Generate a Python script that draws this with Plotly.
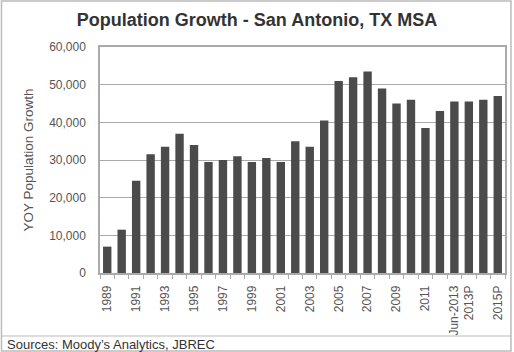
import plotly.graph_objects as go

categories = [str(y) for y in range(1989, 2013)] + ["Jun-2013", "2013P", "2014P", "2015P"]
growth = [7000, 11500, 24500, 31500, 33500, 37000, 34000, 29500, 30000, 31000,
          29500, 30500, 29500, 35000, 33500, 40500, 51000, 52000, 53500, 49000,
          45000, 46000, 38500, 43000, 45500, 45500, 46000, 47000]
shown_labels = ["1989", "1991", "1993", "1995", "1997", "1999", "2001", "2003",
                "2005", "2007", "2009", "2011", "Jun-2013", "2013P", "2015P"]

W, H = 514, 352
L, R, T, B = 100, 7, 47, 79
pw, ph = W - L - R, H - T - B

fig = go.Figure(go.Bar(x=categories, y=growth, marker_color="#4b4b4b",
                       marker_line_width=0))

ticktext = [c if c in shown_labels else "" for c in categories]

def px(x):
    return (x - L) / pw

def py(y):
    return (H - B - y) / ph

fig.update_layout(
    width=W, height=H,
    margin=dict(l=L, r=R, t=T, b=B),
    paper_bgcolor="white", plot_bgcolor="white",
    bargap=0.42, showlegend=False,
    font=dict(family="Liberation Sans, Arial", size=12, color="#555"),
    title=dict(text="<b>Population Growth - San Antonio, TX MSA</b>",
               x=0.5, xanchor="center", y=1 - 20 / H, yanchor="middle",
               font=dict(size=18, color="#333")),
    xaxis=dict(type="category", tickmode="array", tickvals=categories,
               ticktext=ticktext, tickangle=-90, tickson="boundaries",
               ticks="outside", ticklen=4, tickcolor="#aaa",
               ticklabelstandoff=6,
               showline=True, linecolor="#aaa", linewidth=1.5, mirror=True,
               tickfont=dict(size=12, color="#555")),
    yaxis=dict(range=[0, 60000], dtick=10000, tickformat=",d",
               showgrid=True, gridcolor="#aaa", gridwidth=1,
               showline=True, linecolor="#aaa", linewidth=1.5, mirror=True,
               ticks="", ticklabelstandoff=10,
               title=dict(text="YOY Population Growth", standoff=12,
                          font=dict(size=13.5, color="#555")),
               tickfont=dict(size=12, color="#555")),
    shapes=[
        dict(type="rect", xref="paper", yref="paper",
             x0=px(1), x1=px(W - 1), y0=py(1), y1=py(H - 1),
             line=dict(color="#bbb", width=1.5)),
        dict(type="line", xref="paper", yref="paper",
             x0=px(1), x1=px(W - 1), y0=py(336), y1=py(336),
             line=dict(color="#bbb", width=1)),
    ],
    annotations=[
        dict(text="Sources: Moody\u2019s Analytics, JBREC", xref="paper", yref="paper",
             x=px(5), y=py(344), xanchor="left", yanchor="middle", showarrow=False,
             font=dict(size=13, color="#333")),
    ],
)

fig.write_html("out.html", config={"displayModeBar": False},
               post_script="document.body.style.margin='0';document.body.style.overflow='hidden';")
